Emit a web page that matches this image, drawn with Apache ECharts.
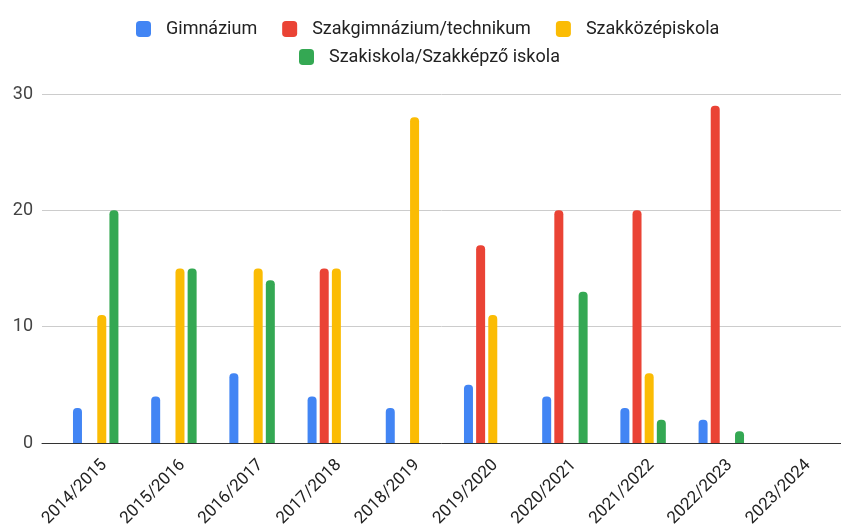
<!DOCTYPE html>
<html>
<head>
<meta charset="utf-8">
<script src="https://cdn.jsdelivr.net/npm/echarts@6/dist/echarts.min.js"></script>
<style>
  html, body { margin: 0; padding: 0; background: #fff; }
  #chart { width: 841px; height: 530px; }
</style>
</head>
<body>
<div id="chart"></div>
<script>
// tanévek
var years = ['2014/2015', '2015/2016', '2016/2017', '2017/2018', '2018/2019',
    '2019/2020', '2020/2021', '2021/2022', '2022/2023', '2023/2024'];
var gimnazium = [3, 4, 6, 4, 3, 5, 4, 3, 2, null];
var szakgimnazium = [null, null, null, 15, null, 17, 20, 20, 29, null];
var szakkozep = [11, 15, 15, 15, 28, 11, null, 6, null, null];
var szakiskola = [20, 15, 14, null, null, null, 13, 2, 1, null];
var yTicks = [0, 10, 20, 30];

var names = ['Gimnázium', 'Szakgimnázium/technikum', 'Szakközépiskola', 'Szakiskola/Szakképző iskola'];
var colors = ['#4285F4', '#EA4335', '#FBBC04', '#34A853'];
var values = [gimnazium, szakgimnazium, szakkozep, szakiskola];

var font = 'Roboto, Arial, sans-serif';
var myChart = echarts.init(document.getElementById('chart'));

var series = [];
for (var i = 0; i < names.length; i++) {
    series.push({
        name: names[i],
        type: 'bar',
        xAxisIndex: 1,
        yAxisIndex: 1,
        data: values[i],
        barWidth: 9,
        barGap: '35%',
        itemStyle: { color: colors[i], borderRadius: [4, 4, 0, 0] }
    });
}

var legendBase = {
    itemWidth: 15,
    itemHeight: 16,
    itemGap: 25,
    icon: 'roundRect',
    textStyle: { fontFamily: font, fontSize: 18, color: '#222', padding: [0, 0, 0, 10] }
};

var option = {
    animation: false,
    color: colors,
    legend: [
        Object.assign({}, legendBase, { left: 131, top: 15, data: names.slice(0, 3) }),
        Object.assign({}, legendBase, { left: 294, top: 43, data: names.slice(3) })
    ],
    grid: [
        { left: 42, right: 0, top: 94, bottom: 87 },
        { left: 56.6, right: 2.4, top: 94, bottom: 87 }
    ],
    xAxis: [
        {
            gridIndex: 0, type: 'value', min: 0, max: 1,
            axisLine: { show: true, lineStyle: { color: '#333', width: 1 } },
            axisTick: { show: false }, axisLabel: { show: false }, splitLine: { show: false }
        },
        {
            gridIndex: 1, type: 'category', data: years,
            axisLine: { show: false }, axisTick: { show: false },
            axisLabel: {
                rotate: 45, margin: 28, interval: 0, padding: [0, -12, 0, 0],
                fontFamily: font, fontSize: 17, color: '#222'
            }
        }
    ],
    yAxis: [
        {
            gridIndex: 0, type: 'value', min: yTicks[0], max: yTicks[yTicks.length - 1], interval: 10,
            axisLine: { show: false }, axisTick: { show: false },
            axisLabel: { margin: 9, fontFamily: font, fontSize: 18, color: '#444' },
            splitLine: { lineStyle: { color: '#ccc', width: 1 } }
        },
        {
            gridIndex: 1, type: 'value', min: yTicks[0], max: yTicks[yTicks.length - 1], interval: 10,
            show: false
        }
    ],
    series: series
};
myChart.setOption(option);
</script>
</body>
</html>
